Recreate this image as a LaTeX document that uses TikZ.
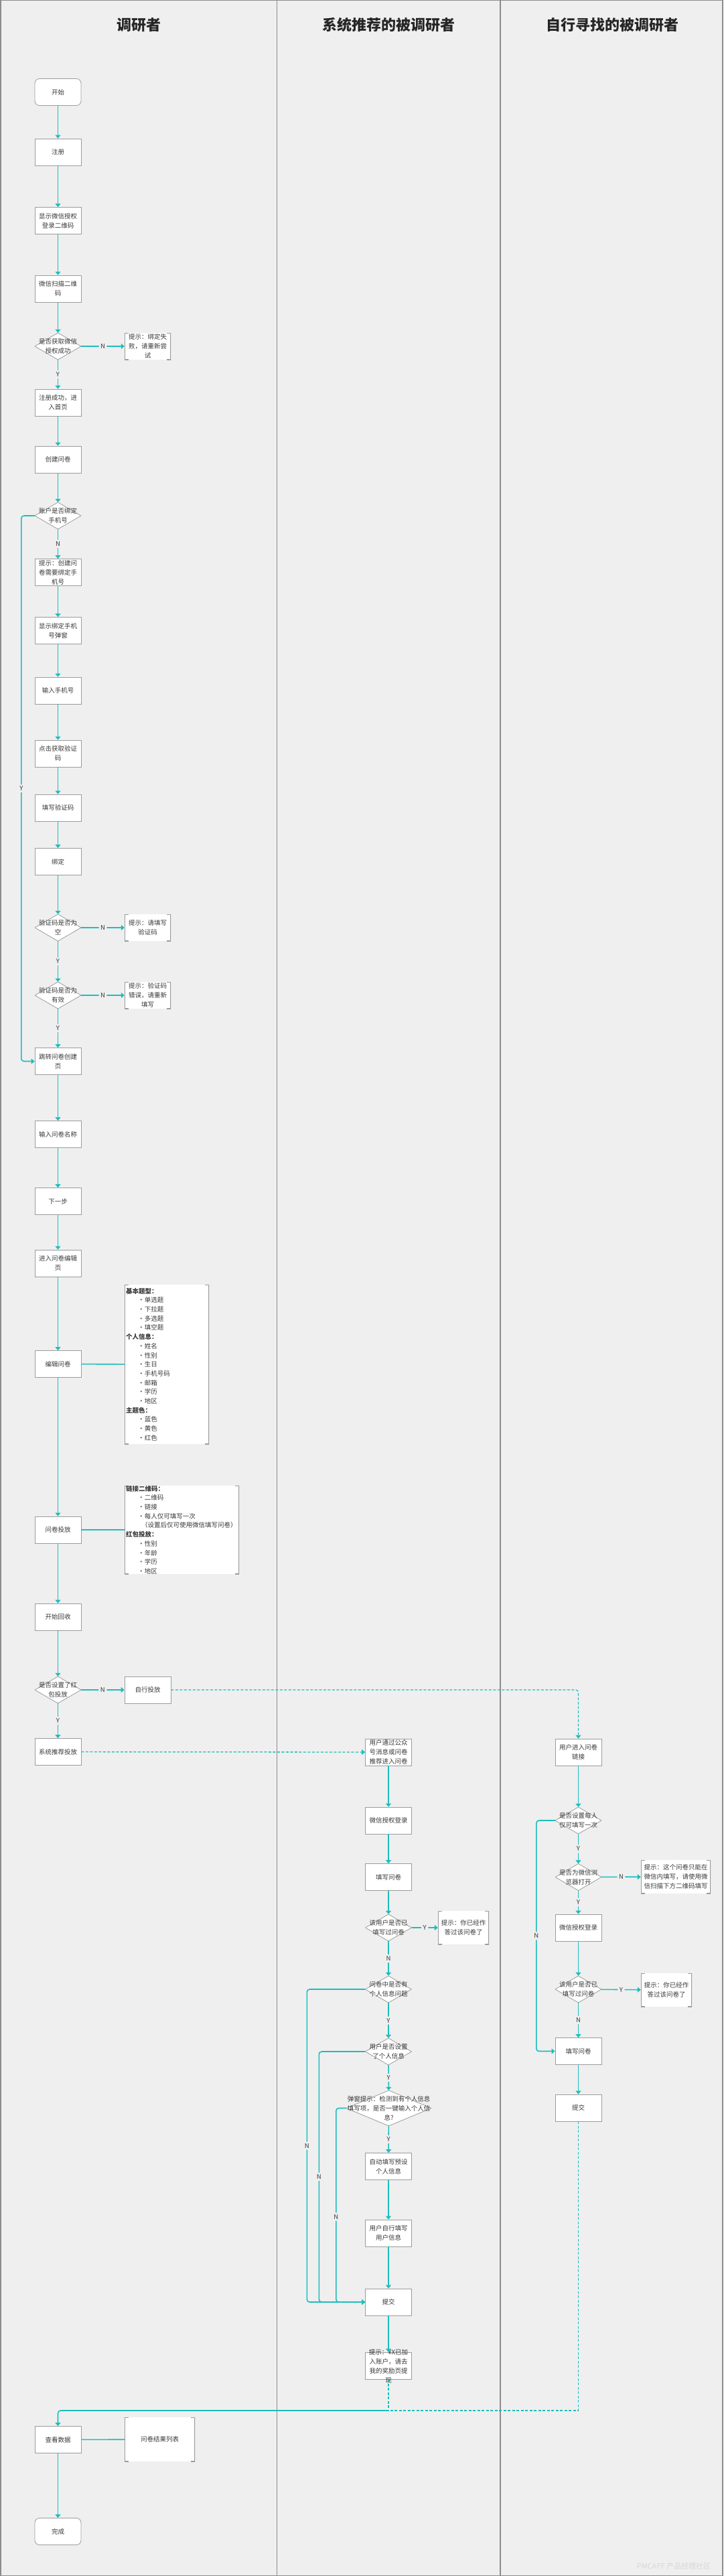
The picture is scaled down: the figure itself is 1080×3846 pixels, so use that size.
\documentclass[tikz,border=0pt]{standalone}
\usepackage{fontspec}
\setmainfont{Noto Sans CJK SC}
\usetikzlibrary{arrows.meta}
\definecolor{bgc}{HTML}{EFEFEF}
\definecolor{tl}{HTML}{1DBDBD}
\definecolor{bl}{HTML}{9C9C9C}
\definecolor{lanec}{HTML}{8C8C8C}
\definecolor{txt}{HTML}{383838}
\definecolor{wmc}{HTML}{D6D6D6}
\newcommand{\itm}[1]{\hspace*{18pt}\makebox[10pt][l]{•}#1}
\tikzset{
 fbody/.style={font=\fontsize{9.5}{14}\selectfont},
 box/.style={draw=bl, line width=0.8pt, fill=white, minimum width=69pt, minimum height=40pt, inner sep=0pt, align=center, text=txt, fbody},
 rbox/.style={box, rounded corners=7pt},
 dec/.style={fill=bgc, minimum width=69pt, minimum height=40pt, inner sep=0pt, align=center, text=txt, fbody,
   path picture={
     \fill[white] (path picture bounding box.north) -- (path picture bounding box.east) -- (path picture bounding box.south) -- (path picture bounding box.west) -- cycle;
     \draw[bl, line width=0.8pt] (path picture bounding box.north) -- (path picture bounding box.east) -- (path picture bounding box.south) -- (path picture bounding box.west) -- cycle;}},
 tipb/.style={fill=white, minimum width=69pt, minimum height=40pt, inner sep=0pt, align=center, text=txt, fbody,
   path picture={
     \draw[bl, line width=1.6pt] ([xshift=6pt]path picture bounding box.north west) -- (path picture bounding box.north west) -- (path picture bounding box.south west) -- ([xshift=6pt]path picture bounding box.south west);
     \draw[bl, line width=1.6pt] ([xshift=-6pt]path picture bounding box.north east) -- (path picture bounding box.north east) -- (path picture bounding box.south east) -- ([xshift=-6pt]path picture bounding box.south east);}},
 conn/.style={draw=tl, line width=1.6pt, -{Triangle[length=5pt,width=8pt]}, rounded corners=4pt},
 plain/.style={draw=tl, line width=1.6pt},
 dconn/.style={conn, dash pattern=on 4pt off 2.5pt, line width=1.3pt},
 dline/.style={plain, dash pattern=on 4pt off 2.5pt, line width=1.3pt},
 lbl/.style={fill=bgc, inner sep=2.5pt, text=txt, font=\fontsize{9.5}{11}\selectfont},
 title/.style={font=\fontsize{22}{26}\selectfont\bfseries, text=black!85},
 notef/.style={font=\fontsize{9.5}{13.7}\selectfont},
}
\begin{document}
\begin{tikzpicture}[x=1pt,y=-1pt]
\useasboundingbox (0,0) rectangle (1080,3846);
\fill[bgc] (0,0) rectangle (1080,3846);
\draw[lanec, line width=1.5pt] (1,0) -- (1,3846) (413.5,0) -- (413.5,3846) (747,0) -- (747,3846) (1079,0) -- (1079,3846) (0,0.75) -- (1080,0.75) (0,3845.25) -- (1080,3845.25);

% titles
\node[title] (t1) at (207,37) {调研者};
\node[title] (t2) at (580,37) {系统推荐的被调研者};
\node[title] (t3) at (914,37) {自行寻找的被调研者};

% left lane
\node[rbox] (start) at (86.5,137.5) {开始};
\node[box] (reg) at (86.5,227) {注册};
\node[box] (qr) at (86.5,329.5) {显示微信授权\\登录二维码};
\node[box] (scan) at (86.5,431) {微信扫描二维\\码};
\node[dec] (d1) at (86.5,517) {是否获取微信\\授权成功};
\node[tipb] (tip1) at (220.5,517) {提示：绑定失\\败，请重新尝\\试};
\node[box] (home) at (86.5,601) {注册成功，进\\入首页};
\node[box] (create) at (86.5,686) {创建问卷};
\node[dec] (d2) at (86.5,770) {账户是否绑定\\手机号};
\node[box] (tip2) at (86.5,854.5) {提示：创建问\\卷需要绑定手\\机号};
\node[box] (bindwin) at (86.5,941.5) {显示绑定手机\\号弹窗};
\node[box] (phone) at (86.5,1031) {输入手机号};
\node[box] (getcode) at (86.5,1125) {点击获取验证\\码};
\node[box] (fillcode) at (86.5,1206) {填写验证码};
\node[box] (bind) at (86.5,1286.5) {绑定};
\node[dec] (d3) at (86.5,1385) {验证码是否为\\空};
\node[tipb] (tip3) at (220.5,1385) {提示：请填写\\验证码};
\node[dec] (d4) at (86.5,1486) {验证码是否为\\有效};
\node[tipb] (tip4) at (220.5,1486) {提示：验证码\\错误，请重新\\填写};
\node[box] (jump) at (86.5,1584.5) {跳转问卷创建\\页};
\node[box] (qname) at (86.5,1693.5) {输入问卷名称};
\node[box] (next) at (86.5,1793.5) {下一步};
\node[box] (editpg) at (86.5,1886) {进入问卷编辑\\页};
\node[box] (edit) at (86.5,2036.5) {编辑问卷};
\node[tipb, notef, text width=122pt, inner xsep=2pt, minimum height=238pt, align=left] (note1) at (249,2037) {{\bfseries 基本题型：}\\
\itm{单选题}\\
\itm{下拉题}\\
\itm{多选题}\\
\itm{填空题}\\
{\bfseries 个人信息：}\\
\itm{姓名}\\
\itm{性别}\\
\itm{生日}\\
\itm{手机号码}\\
\itm{邮箱}\\
\itm{学历}\\
\itm{地区}\\
{\bfseries 主题色：}\\
\itm{蓝色}\\
\itm{黄色}\\
\itm{红色}};
\node[box] (deliver) at (86.5,2284) {问卷投放};
\node[tipb, notef, text width=167pt, inner xsep=2pt, minimum height=132pt, align=left] (note2) at (271.5,2284) {{\bfseries 链接二维码：}\\
\itm{二维码}\\
\itm{链接}\\
\itm{每人仅可填写一次}\\
\hspace*{23pt}（设置后仅可使用微信填写问卷）\\
{\bfseries 红包投放：}\\
\itm{性别}\\
\itm{年龄}\\
\itm{学历}\\
\itm{地区}};
\node[box] (collect) at (86.5,2414) {开始回收};
\node[dec] (d5) at (86.5,2523) {是否设置了红\\包投放};
\node[box] (self) at (220.5,2523) {自行投放};
\node[box] (sysrec) at (86.5,2615.5) {系统推荐投放};
\node[box] (view) at (86.5,3642.5) {查看数据};
\node[tipb, minimum width=105pt, minimum height=66pt] (note3) at (238.5,3642) {问卷结果列表};
\node[rbox] (done) at (86.5,3779.5) {完成};

% middle lane
\node[box] (m1) at (580,2616) {用户通过公众\\号消息或问卷\\推荐进入问卷};
\node[box] (m2) at (580,2718) {微信授权登录};
\node[box] (m3) at (580,2802.5) {填写问卷};
\node[dec] (md1) at (580,2878) {该用户是否已\\填写过问卷};
\node[tipb, minimum width=76pt, minimum height=50pt] (mtip1) at (692,2878) {提示：你已经作\\答过该问卷了};
\node[dec] (md2) at (580,2970) {问卷中是否有\\个人信息问题};
\node[dec] (md3) at (580,3063) {用户是否设置\\了个人信息};
\node[dec, minimum width=127pt, minimum height=53pt] (md4) at (580.5,3147.5) {弹窗提示：检测到有个人信息\\填写项，是否一键输入个人信\\息?};
\node[box] (m4) at (580,3234.5) {自动填写预设\\个人信息};
\node[box] (m5) at (580,3334) {用户自行填写\\用户信息};
\node[box] (m6) at (580,3437) {提交};
\node[box] (mtip2) at (580,3532) {};
\node[align=center, inner sep=0pt, text=txt, fbody] (mtip2t) at (580,3532.5) {提示：¥X已加\\入账户，请去\\我的奖励页提\\现};
\coordinate (jn) at (580,3599);

% right lane
\node[box] (r1) at (863.5,2616) {用户进入问卷\\链接};
\node[dec] (rd1) at (863.5,2718) {是否设置每人\\仅可填写一次};
\node[dec] (rd2) at (863.5,2802.5) {是否为微信浏\\览器打开};
\node[tipb, minimum width=104pt, minimum height=50pt] (rtip1) at (1009,2802) {提示：这个问卷只能在\\微信内填写，请使用微\\信扫描下方二维码填写};
\node[box] (r2) at (863.5,2878) {微信授权登录};
\node[dec] (rd3) at (863.5,2970) {该用户是否已\\填写过问卷};
\node[tipb, minimum width=76pt, minimum height=50pt] (rtip2) at (995,2971) {提示：你已经作\\答过该问卷了};
\node[box] (r3) at (863.5,3062.5) {填写问卷};
\node[box] (r4) at (863.5,3147) {提交};

\node[text=wmc, font=\fontsize{11}{13}\selectfont] (wm) at (1006,3831) {PMCAFF 产品经理社区};

% left lane connectors
\draw[conn] (start) -- (reg);
\draw[conn] (reg) -- (qr);
\draw[conn] (qr) -- (scan);
\draw[conn] (scan) -- (d1);
\draw[conn] (d1) -- node[lbl]{N} (tip1);
\draw[conn] (d1) -- node[lbl]{Y} (home);
\draw[conn] (home) -- (create);
\draw[conn] (create) -- (d2);
\draw[conn] (d2) -- node[lbl]{N} (tip2);
\draw[conn] (d2.west) -- ++(-20,0) |- node[lbl,pos=0.25]{Y} (jump.west);
\draw[conn] (tip2) -- (bindwin);
\draw[conn] (bindwin) -- (phone);
\draw[conn] (phone) -- (getcode);
\draw[conn] (getcode) -- (fillcode);
\draw[conn] (fillcode) -- (bind);
\draw[conn] (bind) -- (d3);
\draw[conn] (d3) -- node[lbl]{N} (tip3);
\draw[conn] (d3) -- node[lbl]{Y} (d4);
\draw[conn] (d4) -- node[lbl]{N} (tip4);
\draw[conn] (d4) -- node[lbl]{Y} (jump);
\draw[conn] (jump) -- (qname);
\draw[conn] (qname) -- (next);
\draw[conn] (next) -- (editpg);
\draw[conn] (editpg) -- (edit);
\draw[plain] (edit) -- (note1);
\draw[conn] (edit) -- (deliver);
\draw[plain] (deliver) -- (note2);
\draw[conn] (deliver) -- (collect);
\draw[conn] (collect) -- (d5);
\draw[conn] (d5) -- node[lbl]{N} (self);
\draw[conn] (d5) -- node[lbl]{Y} (sysrec);
\draw[dconn] (self) -| (r1);
\draw[dconn] (sysrec) -- (m1);
\draw[plain] (view) -- (note3);
\draw[conn] (view) -- (done);

% middle lane connectors
\draw[conn] (m1) -- (m2);
\draw[conn] (m2) -- (m3);
\draw[conn] (m3) -- (md1);
\draw[conn] (md1) -- node[lbl]{Y} (mtip1);
\draw[conn] (md1) -- node[lbl]{N} (md2);
\draw[conn] (md2) -- node[lbl]{Y} (md3);
\draw[conn] (md3) -- node[lbl]{Y} (md4);
\draw[conn] (md4) -- node[lbl]{Y} (m4);
\draw[conn] (m4) -- (m5);
\draw[conn] (m5) -- (m6);
\draw[conn] (m6) -- (mtip2);
\draw[conn] (md2.west) -- ++(-87,0) |- node[lbl,pos=0.25]{N} (m6.west);
\draw[conn] (md3.west) -- ++(-69,0) |- node[lbl,pos=0.25]{N} (m6.west);
\draw[conn] (md4.west) -- ++(-15,0) |- node[lbl,pos=0.28]{N} (m6.west);
\draw[dline] (mtip2.south) -- (jn);
\draw[conn] (jn) -| (view);

% right lane connectors
\draw[conn] (r1) -- (rd1);
\draw[conn] (rd1) -- node[lbl]{Y} (rd2);
\draw[conn] (rd2) -- node[lbl]{N} (rtip1);
\draw[conn] (rd2) -- node[lbl]{Y} (r2);
\draw[conn] (r2) -- (rd3);
\draw[conn] (rd3) -- node[lbl]{Y} (rtip2);
\draw[conn] (rd3) -- node[lbl]{N} (r3);
\draw[conn] (rd1.west) -- ++(-28,0) |- node[lbl,pos=0.25]{N} (r3.west);
\draw[conn] (r3) -- (r4);
\draw[dline] (r4.south) |- (jn);
\end{tikzpicture}
\end{document}
